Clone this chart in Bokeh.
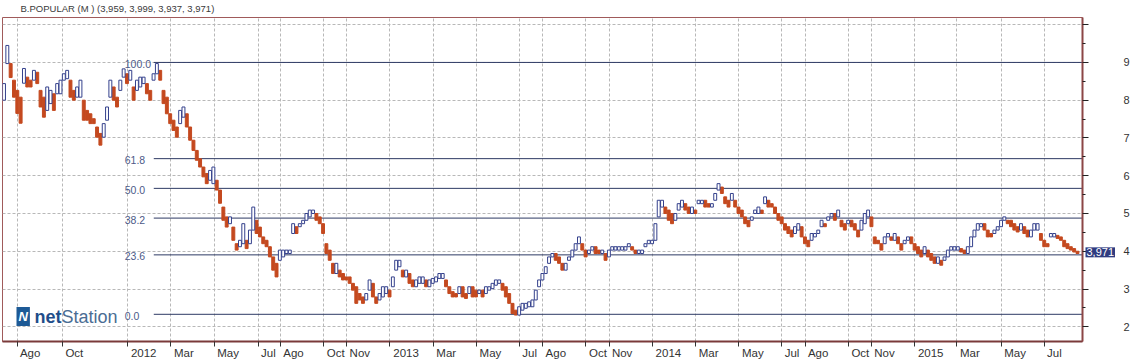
import numpy as np
import pandas as pd
from bokeh.plotting import figure
from bokeh.models import Range1d, FixedTicker, Label, LinearAxis, ColumnDataSource
from bokeh.embed import file_html
from bokeh.resources import INLINE
from bokeh.core.properties import value

# ---------------- data ----------------
title_text = "B.POPULAR (M ) (3,959, 3,999, 3,937, 3,971)"
last_close = 3.971
last_close_text = "3,971"

# sampled price ranges (high / low of each sampled bar), left to right
highs = [
    8.44, 9.45, 8.97, 8.53, 8.26, 8.08, 8.84, 8.61, 8.53, 8.79, 8.74, 8.26, 8.08, 8.35, 8.26, 8.17,
    8.44, 8.53, 8.70, 8.79, 8.53, 8.26, 8.35, 8.53, 8.00, 7.73, 7.64, 7.51, 7.29, 7.12, 7.38, 7.82,
    8.53, 8.35, 8.08, 8.53, 8.83, 8.70, 8.79, 8.35, 8.53, 8.61, 8.61, 8.44, 8.26, 8.70, 8.97, 8.79,
    8.26, 8.08, 7.64, 7.47, 7.29, 7.73, 7.82, 7.64, 7.29, 6.94, 6.67, 6.45, 6.23, 6.06, 6.14, 6.23,
    5.88, 5.62, 5.17, 4.91, 4.91, 4.64, 4.20, 4.29, 4.73, 4.29, 4.56, 5.17, 4.82, 4.64, 4.38, 4.29,
    4.12, 3.85, 3.68, 4.03,
    4.03, 4.03, 4.03, 4.73, 4.65, 4.73, 4.82, 5.00, 5.09, 5.09, 5.00, 4.91, 4.73, 4.20, 4.03, 3.68,
    3.68, 3.50, 3.41, 3.32, 3.32, 3.15, 3.06, 2.88, 2.79, 2.88, 3.24, 3.15, 2.79, 2.88, 3.06, 3.06,
    2.97, 3.32, 3.76, 3.76, 3.50, 3.50, 3.41, 3.24, 3.24, 3.32, 3.32, 3.24, 3.24, 3.28, 3.32, 3.41,
    3.41, 3.24, 3.06, 2.93, 2.88, 3.06, 3.06, 2.88, 3.06, 3.06, 2.97, 2.97, 2.97, 3.06, 3.06, 3.15,
    3.24, 3.24, 3.15, 3.06, 2.88, 2.62, 2.44, 2.53, 2.62, 2.62, 2.66, 2.71, 2.97, 3.24, 3.41, 3.59,
    3.85,
    3.94, 3.94, 3.85, 3.68, 3.68, 3.85, 4.03, 4.20, 4.38, 4.20, 4.03, 4.03, 4.12, 4.12, 4.03, 4.03,
    3.94, 4.03, 4.12, 4.12, 4.12, 4.12, 4.12, 4.20, 4.12, 4.03, 4.03, 4.03, 4.20, 4.29, 4.29, 4.73,
    5.35, 5.35, 5.17, 5.09, 5.00, 5.00, 5.26, 5.35, 5.26, 5.17, 5.17, 5.09, 5.35, 5.35, 5.35, 5.26,
    5.26, 5.53, 5.79, 5.70, 5.44, 5.35, 5.53, 5.35, 5.17, 5.09, 4.91, 4.82, 4.91, 5.09, 5.17, 5.09,
    5.44, 5.35, 5.26, 5.17, 5.00, 4.91, 4.73, 4.65, 4.56, 4.65, 4.73, 4.65, 4.38, 4.29,
    4.47, 4.47, 4.56, 4.82, 4.73, 4.91, 5.00, 5.00, 5.09, 4.82, 4.73, 4.82, 4.82, 4.73, 4.56, 4.82,
    5.00, 5.09, 4.91, 4.38, 4.29, 4.20, 4.38, 4.47, 4.38, 4.47, 4.38, 4.20, 4.29, 4.38, 4.38, 4.20,
    4.12, 4.03, 4.12, 4.03, 3.94, 3.85, 3.85, 3.76, 3.85, 4.03, 4.12, 4.12, 4.12, 4.07, 4.03, 4.12,
    4.38, 4.56, 4.73, 4.73, 4.73, 4.56, 4.47, 4.56, 4.65, 4.82, 4.91, 4.82, 4.82, 4.73, 4.65, 4.73,
    4.65, 4.56, 4.56, 4.73, 4.73, 4.47, 4.29, 4.20, 4.47, 4.47, 4.42, 4.38, 4.29, 4.20, 4.12, 4.07,
    4.00,
]
lows = [
    8.00, 8.97, 8.60, 8.08, 7.65, 7.39, 8.45, 8.35, 8.35, 8.53, 8.44, 7.82, 7.55, 7.73, 7.91, 7.73,
    8.17, 8.17, 8.53, 8.57, 8.08, 8.00, 8.08, 8.08, 7.47, 7.47, 7.38, 7.38, 7.02, 6.81, 7.02, 7.47,
    8.08, 8.00, 7.82, 8.26, 8.61, 8.44, 8.53, 8.00, 8.26, 8.35, 8.44, 8.17, 8.00, 8.53, 8.70, 8.53,
    7.91, 7.64, 7.38, 7.20, 7.02, 7.38, 7.55, 7.29, 6.94, 6.67, 6.41, 6.23, 5.97, 5.79, 5.88, 5.79,
    5.62, 5.27, 4.82, 4.64, 4.73, 4.29, 4.03, 4.12, 4.20, 4.07, 4.20, 4.56, 4.47, 4.38, 4.20, 4.12,
    3.85, 3.50, 3.32, 3.76,
    3.85, 3.94, 3.94, 4.47, 4.47, 4.65, 4.73, 4.82, 4.91, 5.00, 4.82, 4.73, 4.47, 3.94, 3.76, 3.41,
    3.41, 3.32, 3.24, 3.24, 3.15, 2.97, 2.62, 2.71, 2.62, 2.71, 2.97, 2.79, 2.62, 2.71, 2.79, 2.88,
    2.79, 3.06, 3.50, 3.59, 3.32, 3.32, 3.15, 3.06, 3.06, 3.15, 3.15, 3.06, 3.06, 3.15, 3.19, 3.28,
    3.28, 3.06, 2.88, 2.79, 2.79, 2.88, 2.79, 2.75, 2.88, 2.79, 2.79, 2.88, 2.79, 2.88, 2.97, 3.01,
    3.10, 3.15, 2.97, 2.79, 2.62, 2.35, 2.31, 2.31, 2.44, 2.49, 2.53, 2.53, 2.71, 3.06, 3.24, 3.41,
    3.68,
    3.85, 3.76, 3.68, 3.50, 3.50, 3.76, 3.85, 4.03, 4.20, 4.03, 3.85, 3.94, 4.03, 3.94, 3.94, 3.94,
    3.76, 3.85, 4.03, 4.03, 4.03, 4.03, 4.03, 4.12, 4.03, 3.94, 3.94, 3.94, 4.12, 4.20, 4.20, 4.29,
    4.91, 5.17, 5.00, 4.82, 4.73, 4.82, 5.09, 5.17, 5.09, 5.00, 5.00, 5.00, 5.26, 5.26, 5.17, 5.17,
    5.17, 5.35, 5.62, 5.53, 5.26, 5.17, 5.35, 5.17, 5.00, 4.91, 4.73, 4.65, 4.82, 5.00, 5.00, 5.00,
    5.26, 5.17, 5.17, 5.00, 4.82, 4.73, 4.56, 4.47, 4.38, 4.47, 4.56, 4.38, 4.20, 4.12,
    4.29, 4.38, 4.47, 4.65, 4.65, 4.82, 4.91, 4.82, 4.91, 4.65, 4.56, 4.73, 4.65, 4.56, 4.38, 4.56,
    4.73, 4.91, 4.65, 4.20, 4.20, 4.03, 4.20, 4.38, 4.29, 4.29, 4.20, 4.03, 4.20, 4.29, 4.20, 4.03,
    3.94, 3.85, 3.94, 3.85, 3.76, 3.68, 3.68, 3.63, 3.76, 3.85, 4.03, 4.03, 4.03, 3.98, 3.94, 3.94,
    4.12, 4.38, 4.56, 4.65, 4.56, 4.38, 4.38, 4.47, 4.56, 4.65, 4.82, 4.73, 4.65, 4.56, 4.51, 4.56,
    4.47, 4.38, 4.38, 4.56, 4.56, 4.29, 4.12, 4.12, 4.38, 4.38, 4.34, 4.29, 4.12, 4.07, 4.03, 3.98,
    3.94,
]

# x axis calendar (business days) and tick months
start_date = "2011-07-12"
end_date = "2015-08-31"
tick_dates = [
    "2011-08-01", "2011-10-03", "2012-01-02", "2012-03-01", "2012-05-01", "2012-07-02",
    "2012-08-01", "2012-10-01", "2012-11-01", "2013-01-01", "2013-03-01", "2013-05-01",
    "2013-07-01", "2013-08-01", "2013-10-01", "2013-11-01", "2014-01-01", "2014-03-03",
    "2014-05-01", "2014-07-01", "2014-08-01", "2014-10-01", "2014-11-03", "2015-01-01",
    "2015-03-02", "2015-05-01", "2015-07-01",
]
tick_labels = [
    "Ago", "Oct", "2012", "Mar", "May", "Jul", "Ago", "Oct", "Nov", "2013", "Mar", "May",
    "Jul", "Ago", "Oct", "Nov", "2014", "Mar", "May", "Jul", "Ago", "Oct", "Nov", "2015",
    "Mar", "May", "Jul",
]
y_ticks = [2, 3, 4, 5, 6, 7, 8, 9, 10]
y_minor = [1.5, 2.5, 3.5, 4.5, 5.5, 6.5, 7.5, 8.5, 9.5]
y_labels = ["2", "3", "4", "5", "6", "7", "8", "9", ""]

# Fibonacci retracement
fib_high = 9.0
fib_low = 2.33
fib_levels = [0.0, 23.6, 38.2, 50.0, 61.8, 100.0]
fib_start = "2012-02-07"

# ---------------- derived ----------------
bdays = pd.bdate_range(start_date, end_date)
tick_pos = [int(bdays.searchsorted(pd.Timestamp(d))) for d in tick_dates]
fib_x0 = int(bdays.searchsorted(pd.Timestamp(fib_start)))

X_START, X_END = -0.5, 1074
Y_START, Y_END = 1.61, 10.19
FRAME_W = 1080
px_per_unit = FRAME_W / (X_END - X_START)

FONT = "Liberation Sans"
XLAB_SIZE = 11.5
# approximate advance widths (per 1000 em) of the sans font, to left-align month labels next to their tick
_adv = {"A": 667, "M": 833, "N": 722, "O": 778, "J": 500, "a": 556, "c": 500, "g": 556,
        "o": 556, "r": 333, "t": 278, "u": 556, "v": 500, "y": 500, "l": 222}
def text_w(s):
    return sum(_adv.get(ch, 556) for ch in s) / 1000 * XLAB_SIZE
label_pos = [int(round(tp + (3 + text_w(t) / 2) / px_per_unit)) for tp, t in zip(tick_pos, tick_labels)]

n = len(highs)
hi = np.array(highs)
lo = np.array(lows)
xs = np.linspace(1, 1069, n)
mid = (hi + lo) / 2
up = np.r_[True, mid[1:] >= mid[:-1]]
half = 1.45

src_up = ColumnDataSource(dict(l=xs[up] - half, r=xs[up] + half, t=hi[up], b=lo[up]))
src_dn = ColumnDataSource(dict(l=xs[~up] - half, r=xs[~up] + half, t=hi[~up], b=lo[~up]))

p = figure(width=1134, height=361, output_backend="svg", toolbar_location=None,
           x_range=Range1d(X_START, X_END), y_range=Range1d(Y_START, Y_END),
           y_axis_location="right", title=None,
           min_border_left=2, min_border_right=52, min_border_top=17, min_border_bottom=20,
           background_fill_color="white", border_fill_color="white")

p.outline_line_color = "#a05a5a"
p.outline_line_width = 1

# x axis: tick marks only
xt = FixedTicker(ticks=tick_pos, minor_ticks=[])
p.xaxis.ticker = xt
p.xaxis.major_label_overrides = {tp: "" for tp in tick_pos}
p.xaxis.major_label_standoff = 0
p.xaxis.major_tick_out = 5
p.xaxis.major_tick_in = 0
p.xaxis.major_tick_line_color = "#333333"
p.xaxis.minor_tick_line_color = None
p.xaxis.axis_line_color = "#7a3a3a"
p.xaxis.axis_line_width = 2

# second x axis: month labels, placed just right of each tick
xlab_axis = LinearAxis(ticker=FixedTicker(ticks=label_pos, minor_ticks=[]),
                       major_label_overrides={lp: t for lp, t in zip(label_pos, tick_labels)},
                       axis_line_color=None, major_tick_line_color=None, minor_tick_line_color=None,
                       major_tick_out=0, major_tick_in=0, major_label_standoff=0,
                       major_label_text_font=FONT, major_label_text_font_size=f"{XLAB_SIZE}px",
                       major_label_text_color="#333333")
p.add_layout(xlab_axis, "below")

# y axis: the ruler with tick marks (labels come from a second axis further out)
yt = FixedTicker(ticks=y_ticks, minor_ticks=y_minor)
p.yaxis.ticker = yt
p.yaxis.major_label_overrides = {t: "" for t in y_ticks}
p.yaxis.major_label_standoff = 0
p.yaxis.major_tick_out = 6
p.yaxis.major_tick_in = 0
p.yaxis.minor_tick_out = 3
p.yaxis.minor_tick_in = 0
p.yaxis.major_tick_line_color = "#222222"
p.yaxis.minor_tick_line_color = "#222222"
p.yaxis.axis_line_color = "#8c4646"
p.yaxis.axis_line_width = 2

# last price tag next to the ruler
p.add_layout(Label(x=X_END, y=last_close, x_offset=3, text=last_close_text,
                   text_baseline="middle", text_align="left", text_color="white",
                   text_font=FONT, text_font_size="11px",
                   background_fill_color="#2f3c80", padding=1), "right")

# y labels
ylab_axis = LinearAxis(ticker=FixedTicker(ticks=y_ticks, minor_ticks=[]),
                       major_label_overrides={t: s for t, s in zip(y_ticks, y_labels)},
                       axis_line_color=None, major_tick_line_color=None, minor_tick_line_color=None,
                       major_tick_out=0, major_tick_in=0, major_label_standoff=5,
                       major_label_text_font=FONT, major_label_text_font_size="11px",
                       major_label_text_color="#333333")
p.add_layout(ylab_axis, "right")

p.xgrid.ticker = xt
p.ygrid.ticker = yt
for g in (p.xgrid, p.ygrid):
    g.grid_line_color = "#b8b8b8"
    g.grid_line_dash = "3 2"
    g.grid_line_width = 1

# Fibonacci lines and labels
fib_prices = [fib_low + (fib_high - fib_low) * lv / 100 for lv in fib_levels]
p.segment(x0=[fib_x0] * len(fib_prices), x1=[X_END] * len(fib_prices),
          y0=fib_prices, y1=fib_prices, line_color="#2e3a64", line_width=1)
p.text(x=[fib_x0] * len(fib_prices), y=fib_prices, text=[f"{lv:.1f}" for lv in fib_levels],
       x_offset=-29, y_offset=1.5, text_align="left", text_baseline="middle",
       text_font=value(FONT), text_font_size="10.5px", text_color="#4d5a88")

# candles
p.quad(left="l", right="r", top="t", bottom="b", source=src_dn,
       fill_color="#c4491f", line_color="#c4491f", line_width=1)
p.quad(left="l", right="r", top="t", bottom="b", source=src_up,
       fill_color="white", line_color="#34408c", line_width=1)

# title bar text
p.add_layout(Label(x=X_START, y=Y_END, x_offset=18, y_offset=9, text=title_text,
                   text_baseline="middle", text_align="left", text_color="#3a3a3a",
                   text_font=FONT, text_font_size="9.5px"), "above")

# netStation logo
p.add_layout(Label(x=14, y=25, x_units="screen", y_units="screen", text="N",
                   text_baseline="middle", text_align="left", text_color="white",
                   text_font=FONT, text_font_size="13px", text_font_style="bold italic",
                   background_fill_color="#1d5a96", padding=2))
p.add_layout(Label(x=32, y=25, x_units="screen", y_units="screen", text="net",
                   text_baseline="middle", text_align="left", text_color="#1f4d8a",
                   text_font=FONT, text_font_size="18px", text_font_style="bold"))
p.add_layout(Label(x=59, y=25, x_units="screen", y_units="screen", text="Station",
                   text_baseline="middle", text_align="left", text_color="#4a6d94",
                   text_font=FONT, text_font_size="18px"))

open("out.html", "w").write(file_html(p, INLINE))
